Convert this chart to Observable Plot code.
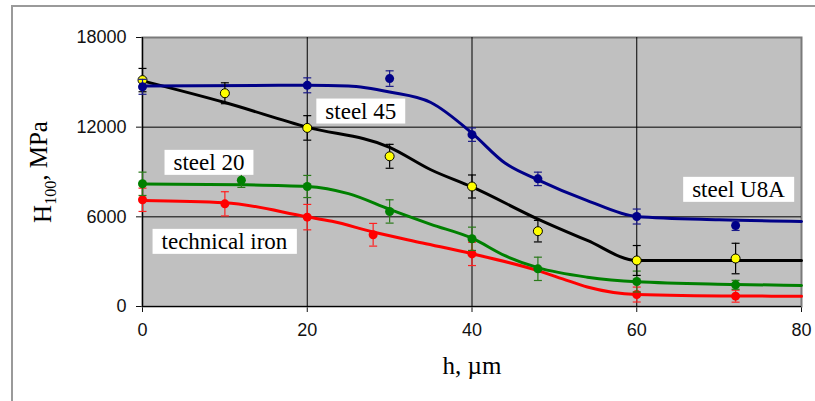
<!DOCTYPE html>
<html><head><meta charset="utf-8">
<script src="https://cdn.jsdelivr.net/npm/d3@7"></script>
<script src="https://cdn.jsdelivr.net/npm/@observablehq/plot@0.6"></script>
<style>
body{margin:0;background:#fff;overflow:hidden;}
#wrap{position:relative;width:815px;height:401px;overflow:hidden;}
#border{position:absolute;left:11px;top:5px;width:900px;height:600px;border:2px solid #9a9a9a;box-sizing:border-box;pointer-events:none}
</style></head><body><div id="wrap"><div id="border"></div></div>
<script>
// axis ticks
const xTicks = [0, 20, 40, 60, 80];
const yTicks = [0, 6000, 12000, 18000];
const xLabel = "h, µm";
const yLabel = "H100, MPa";

// steel U8A (blue)
const u8aX   = [0, 20, 30, 40, 48, 60, 72];
const u8aY   = [14700, 14800, 15250, 11500, 8540, 6020, 5420];
const u8aErr = [500, 500, 520, 450, 450, 500, 330];
const u8aFitX = [0, 20, 25, 30, 35, 40, 44, 48, 54, 60, 70, 80];
const u8aFitY = [14750, 14800, 14750, 14350, 13650, 11600, 9600, 8480, 7090, 6020, 5800, 5690];

// steel 45 (black line, yellow points)
const s45X   = [0, 10, 20, 30, 40, 48, 60, 72];
const s45Y   = [15150, 14270, 11950, 10050, 8030, 5040, 3080, 3210];
const s45Err = [780, 700, 820, 800, 770, 720, 1000, 1020];
const s45FitX = [0, 10, 20, 30, 35, 40, 48, 54, 60, 80];
const s45FitY = [15100, 13650, 12000, 10650, 9150, 8000, 5850, 4420, 3080, 3080];

// steel 20 (green)
const s20X   = [0, 12, 20, 30, 40, 48, 60, 72];
const s20Y   = [8210, 8450, 8030, 6360, 4530, 2520, 1670, 1450];
const s20Err = [780, 480, 740, 780, 780, 780, 700, 300];
const s20FitX = [0, 12, 20, 25, 30, 35, 40, 44, 48, 54, 60, 72, 80];
const s20FitY = [8200, 8150, 8030, 7550, 6500, 5500, 4570, 3400, 2600, 1960, 1650, 1480, 1400];

// technical iron (red)
const ironX   = [0, 10, 20, 28, 40, 60, 72];
const ironY   = [7140, 6870, 5980, 4800, 3520, 800, 690];
const ironErr = [780, 810, 850, 760, 780, 500, 400];
const ironFitX = [0, 10, 20, 23, 28, 34, 40, 48, 51, 54, 60, 72, 80];
const ironFitY = [7100, 6950, 6000, 5700, 4980, 4250, 3530, 2400, 1850, 1300, 800, 700, 690];

// in-plot labels
const labelText = ["steel 20", "technical iron", "steel 45", "steel U8A"];
const labelX    = [8.07, 9.95, 26.5, 72.35];
const labelY    = [9636, 4350, 13070, 7830];

const pts = (xs, ys, es) => xs.map((x, i) => ({x, y: ys[i], e: es[i]}));
const fit = (xs, ys) => xs.map((x, i) => ({x, y: ys[i]}));
const labels = labelText.map((t, i) => ({t, x: labelX[i], y: labelY[i]}));

const cap = {draw(ctx, size) { const r = Math.sqrt(size / Math.PI); ctx.moveTo(-r, 0); ctx.lineTo(r, 0); }};

const series = [
  {fit: fit(ironFitX, ironFitY), p: pts(ironX, ironY, ironErr), line: "#ff0000", bar: "#ff2020", fill: "#ff0000", stroke: "none"},
  {fit: fit(s20FitX, s20FitY), p: pts(s20X, s20Y, s20Err), line: "#008000", bar: "#2a7a1a", fill: "#008000", stroke: "none"},
  {fit: fit(s45FitX, s45FitY), p: pts(s45X, s45Y, s45Err), line: "#000000", bar: "#000000", fill: "#ffff00", stroke: "#000"},
  {fit: fit(u8aFitX, u8aFitY), p: pts(u8aX, u8aY, u8aErr), line: "#000088", bar: "#1a1a88", fill: "#000088", stroke: "none"}
];

const serif = "'Liberation Serif', 'Times New Roman', serif";
const marks = [
  Plot.frame({fill: "#c0c0c0", stroke: "#7a7a7a", strokeWidth: 2}),
  Plot.ruleX(xTicks.slice(1, -1), {stroke: "#000", strokeWidth: 1}),
  Plot.ruleY(yTicks.slice(1, -1), {stroke: "#000", strokeWidth: 1}),
  Plot.ruleX([0], {stroke: "#000", strokeWidth: 1.2}),
  Plot.ruleY([0], {stroke: "#000", strokeWidth: 1.2})
];
for (const s of series) {
  marks.push(Plot.line(s.fit, {x: "x", y: "y", stroke: s.line, strokeWidth: 3, curve: "monotone-x"}));
}
for (const s of series) {
  marks.push(Plot.ruleX(s.p, {x: "x", y1: d => d.y - d.e, y2: d => d.y + d.e, stroke: s.bar, strokeWidth: 1.2}));
  marks.push(Plot.dot(s.p, {x: "x", y: d => d.y + d.e, symbol: cap, r: 4, stroke: s.bar, strokeWidth: 1.2, fill: "none"}));
  marks.push(Plot.dot(s.p, {x: "x", y: d => d.y - d.e, symbol: cap, r: 4, stroke: s.bar, strokeWidth: 1.2, fill: "none"}));
  marks.push(Plot.dot(s.p, {x: "x", y: "y", r: 4.5, fill: s.fill, stroke: s.stroke, strokeWidth: 1}));
}
marks.push(Plot.text(labels, {x: "x", y: "y", text: "t", fontFamily: serif, fontSize: 23, fill: "#000", textAnchor: "middle", lineAnchor: "middle"}));
marks.push(Plot.text([xLabel], {text: d => d, frameAnchor: "bottom", dy: 59, fontFamily: serif, fontSize: 25, fill: "#000", textAnchor: "middle", lineAnchor: "middle"}));
marks.push(Plot.text([yLabel], {text: d => d, frameAnchor: "left", dx: -100, rotate: -90, fontFamily: serif, fontSize: 25, fill: "#000", textAnchor: "middle", lineAnchor: "middle"}));

const chart = Plot.plot({
  width: 815, height: 401,
  marginLeft: 142, marginRight: 14, marginTop: 37, marginBottom: 95,
  style: {fontFamily: "'Liberation Sans', Arial, sans-serif", fontSize: "18px", color: "#111", background: "white", overflow: "visible"},
  x: {domain: [0, 80], ticks: xTicks, tickSize: 6, tickPadding: 11, label: null},
  y: {domain: [0, 18000], ticks: yTicks, tickSize: 6, tickPadding: 10, label: null, tickFormat: d3.format("d")},
  marks
});
const wrap = document.getElementById("wrap");
wrap.insertBefore(chart, wrap.firstChild);

const allText = d3.select(chart).selectAll("text");
// white boxes behind the series labels
allText.filter(function() { return labelText.includes(this.textContent); }).each(function() {
  this.setAttribute("font-family", serif);
  this.style.fontFamily = serif;
  const b = this.getBBox();
  const r = document.createElementNS("http://www.w3.org/2000/svg", "rect");
  r.setAttribute("x", b.x - 9);
  r.setAttribute("y", b.y + b.height / 2 - 12.5);
  r.setAttribute("width", b.width + 18);
  r.setAttribute("height", 25);
  r.setAttribute("fill", "#fff");
  const tr = this.getAttribute("transform");
  if (tr) r.setAttribute("transform", tr);
  this.parentNode.insertBefore(r, this);
});

// subscript in the y label
allText.filter(function() { return this.textContent === yLabel; }).each(function() {
  const t = d3.select(this);
  t.text(null);
  t.append("tspan").text("H");
  t.append("tspan").attr("font-size", 16).attr("dy", "0.35em").text("100");
  t.append("tspan").attr("dy", "-0.35em").text(", MPa");
});
</script>
</body></html>
